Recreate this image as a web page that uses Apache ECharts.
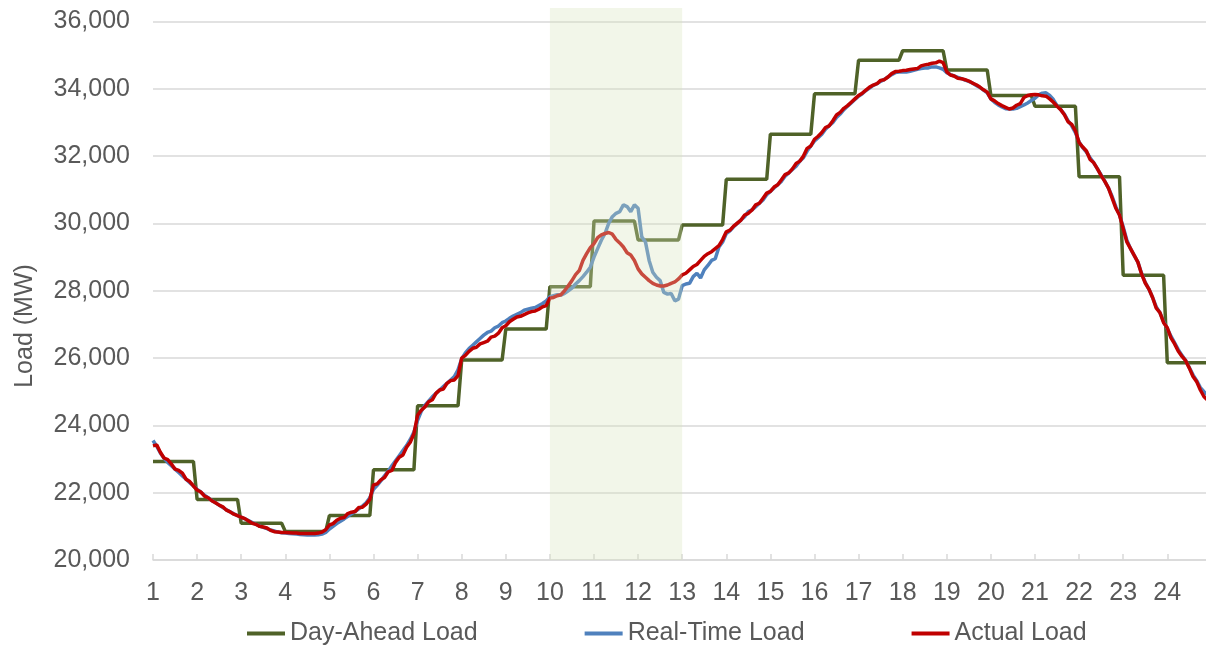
<!DOCTYPE html>
<html>
<head>
<meta charset="utf-8">
<script src="https://cdn.jsdelivr.net/npm/echarts@6/dist/echarts.min.js"></script>
<style>
html,body{margin:0;padding:0;background:#ffffff;}
#chart{width:1206px;height:645px;}
</style>
</head>
<body>
<div id="chart"></div>
<script>
// ---------------- data ----------------
const hourLabels = [1,2,3,4,5,6,7,8,9,10,11,12,13,14,15,16,17,18,19,20,21,22,23,24];
const seriesNames = ['Day-Ahead Load', 'Real-Time Load', 'Actual Load'];
const intervalsPerHour = 12; // 5-minute intervals

// Day-ahead hourly schedule (MW), one value per hour
const dayAheadHourly = [22930, 21800, 21090, 20850, 21320, 22680, 24580, 25940, 26860, 28120, 30070, 29510,
                        29950, 31310, 32650, 33850, 34850, 35130, 34560, 33800, 33480, 31390, 28460, 25860];

// Real-time load, 5-minute values (12 per hour)
const realTime = [
  23550, 23380, 23180, 23020, 22900, 22800, 22700, 22600, 22500, 22400, 22300, 22200,
  22100, 22020, 21930, 21850, 21770, 21700, 21630, 21560, 21490, 21430, 21370, 21320,
  21270, 21220, 21170, 21110, 21060, 21010, 20970, 20930, 20890, 20860, 20830, 20810,
  20800, 20790, 20780, 20770, 20760, 20750, 20740, 20740, 20740, 20750, 20770, 20820,
  20920, 21000, 21080, 21150, 21220, 21300, 21370, 21440, 21520, 21600, 21700, 21850,
  22100, 22220, 22350, 22500, 22640, 22800, 22950, 23100, 23250, 23400, 23580, 23800,
  24150, 24420, 24600, 24720, 24850, 24950, 25050, 25150, 25250, 25350, 25450, 25650,
  25980, 26150, 26280, 26380, 26480, 26580, 26680, 26760, 26800, 26900, 26950, 27050,
  27100, 27180, 27250, 27300, 27350, 27420, 27450, 27480, 27500, 27560, 27620, 27700,
  27820, 27850, 27880, 27870, 27920, 28000, 28080, 28200, 28300, 28420, 28550, 28700,
  29000, 29250, 29500, 29700, 30000, 30200, 30300, 30350, 30550, 30500, 30350, 30550,
  30450, 29600, 29450, 28900, 28550, 28400, 28300, 27950, 27900, 27920, 27700, 27750,
  28150, 28200, 28220, 28420, 28520, 28380, 28620, 28750, 28900, 28950, 29300, 29450,
  29700, 29780, 29900, 30000, 30100, 30200, 30350, 30400, 30500, 30600, 30700, 30850,
  30950, 31050, 31150, 31250, 31400, 31500, 31600, 31700, 31850, 31950, 32150, 32300,
  32450, 32550, 32650, 32800, 32900, 33000, 33150, 33250, 33380, 33480, 33580, 33680,
  33780, 33850, 33950, 34020, 34100, 34150, 34220, 34280, 34350, 34420, 34480, 34500,
  34500, 34500, 34520, 34550, 34580, 34600, 34620, 34620, 34650, 34650, 34620, 34580,
  34480, 34420, 34380, 34340, 34300, 34260, 34220, 34170, 34100, 34040, 33960, 33880,
  33700, 33600, 33520, 33460, 33410, 33400, 33400, 33420, 33470, 33520, 33580, 33650,
  33720, 33820, 33870, 33880, 33800, 33680, 33500, 33380, 33250, 33050, 32900, 32700,
  32420, 32250, 32120, 31950, 31800, 31620, 31440, 31250, 31050, 30800, 30500, 30250,
  29900, 29500, 29250, 29050, 28850, 28520, 28250, 28050, 27800, 27520, 27350, 27080,
  26880, 26650, 26450, 26250, 26080, 25930, 25720, 25500, 25330, 25120, 25000, 24900
];

// Actual load, 5-minute values (12 per hour)
const actual = [
  23390, 23420, 23200, 23030, 22980, 22850, 22700, 22660, 22580, 22400, 22330, 22200,
  22080, 22020, 21900, 21850, 21760, 21700, 21630, 21580, 21480, 21430, 21360, 21320,
  21270, 21230, 21160, 21090, 21060, 21000, 20980, 20950, 20880, 20840, 20830, 20820,
  20820, 20810, 20800, 20800, 20790, 20790, 20790, 20790, 20790, 20800, 20830, 20900,
  21040, 21080, 21180, 21240, 21260, 21380, 21420, 21440, 21560, 21570, 21660, 21800,
  22230, 22260, 22380, 22450, 22620, 22660, 22900, 23050, 23120, 23350, 23500, 23750,
  24300, 24450, 24550, 24700, 24760, 24950, 25050, 25080, 25250, 25330, 25350, 25480,
  26000, 26080, 26200, 26290, 26320, 26420, 26460, 26500, 26620, 26650, 26740, 26900,
  26960, 27080, 27150, 27220, 27240, 27290, 27340, 27380, 27400, 27450, 27520, 27560,
  27780, 27800, 27850, 27880, 28000, 28150, 28300, 28480, 28600, 28900, 29100, 29280,
  29400, 29580, 29660, 29700, 29730, 29680, 29520, 29420, 29300, 29130, 29060, 28900,
  28650, 28500, 28400, 28300, 28220, 28170, 28140, 28140, 28170, 28220, 28260, 28350,
  28470, 28520, 28620, 28720, 28780, 28900, 29020, 29100, 29160, 29250, 29340, 29520,
  29750, 29800, 29920, 30010, 30100, 30250, 30300, 30400, 30550, 30600, 30750, 30900,
  30950, 31080, 31150, 31300, 31450, 31500, 31620, 31780, 31850, 32000, 32230, 32300,
  32500, 32590, 32700, 32850, 32900, 33050, 33220, 33300, 33420, 33500, 33600, 33700,
  33800, 33870, 33960, 34050, 34110, 34150, 34250, 34270, 34350, 34450, 34510, 34520,
  34540, 34550, 34570, 34590, 34600, 34680, 34710, 34730, 34760, 34770, 34820, 34780,
  34500, 34410, 34380, 34310, 34300, 34270, 34230, 34170, 34120, 34050, 33970, 33900,
  33700, 33640, 33560, 33500, 33450, 33400, 33430, 33510, 33560, 33740, 33800, 33820,
  33830, 33820, 33790, 33780, 33700, 33600, 33480, 33380, 33230, 33020, 32940, 32750,
  32400, 32270, 32150, 31900, 31800, 31620, 31420, 31250, 31050, 30750, 30450, 30250,
  29850, 29450, 29250, 29050, 28850, 28500, 28230, 28050, 27800, 27480, 27350, 27050,
  26900, 26600, 26420, 26200, 26050, 25920, 25700, 25450, 25300, 25050, 24850, 24750
];

const shadedHours = [10, 13];
const yAxisMin = 20000, yAxisMaxTick = 36000, yAxisInterval = 2000;
const yAxisTitle = 'Load (MW)';

// ---------------- build ----------------
function timeOf(i) { return hourLabels[0] + i / intervalsPerHour; }
const dayAheadPts = [];
dayAheadHourly.forEach(function (v, h) {
  for (let k = 0; k < intervalsPerHour; k++) dayAheadPts.push([timeOf(h * intervalsPerHour + k), v]);
});
const realTimePts = realTime.map(function (v, i) { return [timeOf(i), v]; });
const actualPts = actual.map(function (v, i) { return [timeOf(i), v]; });
const xMax = timeOf(actual.length - 1);

const FONT = '"Liberation Sans", Arial, sans-serif';
const TXT = '#595959';
const GRIDC = '#D9D9D9';

const chart = echarts.init(document.getElementById('chart'), null, { renderer: 'canvas' });
chart.setOption({
  animation: false,
  backgroundColor: '#ffffff',
  textStyle: { fontFamily: FONT },
  grid: { left: 153, top: 8, width: 1054.7, height: 552, containLabel: false, outerBoundsMode: 'none' },
  legend: {
    left: 247, top: 621, padding: 0,
    itemWidth: 38, itemHeight: 4, itemGap: 107,
    icon: 'rect',
    textStyle: { fontSize: 25, color: TXT, fontFamily: FONT },
    data: seriesNames
  },
  xAxis: {
    type: 'value',
    min: hourLabels[0], max: xMax, interval: 1,
    axisLine: { show: true, lineStyle: { color: GRIDC, width: 1.5 } },
    axisTick: { show: true, inside: true, length: 6, lineStyle: { color: GRIDC, width: 1.5 } },
    splitLine: { show: false },
    axisLabel: {
      fontSize: 25, color: TXT, margin: 21, fontFamily: FONT,
      formatter: function (v) { return hourLabels.indexOf(v) >= 0 ? String(v) : ''; }
    }
  },
  yAxis: {
    type: 'value',
    min: yAxisMin, max: 36400, interval: yAxisInterval,
    axisLine: { show: false }, axisTick: { show: false },
    splitLine: { show: true, showMaxLine: false, lineStyle: { color: GRIDC, width: 1.5 } },
    axisLabel: {
      fontSize: 25, color: TXT, margin: 23, fontFamily: FONT,
      formatter: function (v) { return (v % yAxisInterval === 0 && v <= yAxisMaxTick) ? v.toLocaleString('en-US') : ''; }
    }
  },
  graphic: [{
    type: 'text', x: 25, y: 326, rotation: Math.PI / 2,
    style: { text: yAxisTitle, fontSize: 25, fill: TXT, fontFamily: FONT, align: 'center', verticalAlign: 'middle' }
  }],
  series: [
    {
      name: seriesNames[0], type: 'line', data: dayAheadPts, showSymbol: false, symbol: 'none',
      color: '#4F6228', lineStyle: { width: 3.5, color: '#4F6228' }, z: 2
    },
    {
      name: seriesNames[1], type: 'line', data: realTimePts, showSymbol: false, symbol: 'none',
      color: '#4F81BD', lineStyle: { width: 3.5, color: '#4F81BD' }, z: 3
    },
    {
      name: seriesNames[2], type: 'line', data: actualPts, showSymbol: false, symbol: 'none',
      color: '#C00000', lineStyle: { width: 3.5, color: '#C00000' }, z: 4,
      markArea: {
        silent: true, z: 10,
        itemStyle: { color: 'rgba(215,228,189,0.33)' },
        data: [[{ xAxis: shadedHours[0] }, { xAxis: shadedHours[1] }]]
      }
    }
  ]
});
</script>
</body>
</html>
